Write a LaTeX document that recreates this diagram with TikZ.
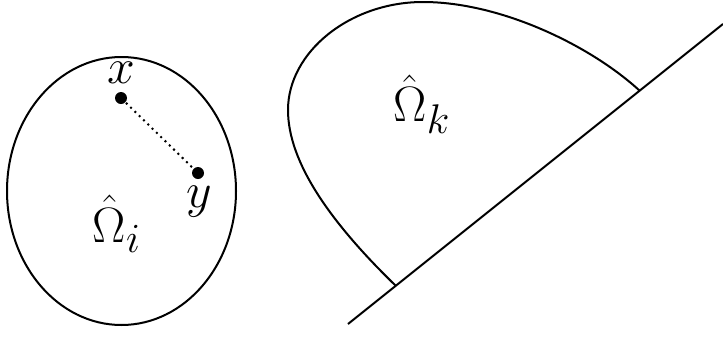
\documentclass[tikz,border=0pt]{standalone}
\usepackage{tikz}
\usetikzlibrary{positioning}
\usepackage{amsmath}
\usepackage{amssymb}
\begin{document}
\begin{tikzpicture}[
      x=0.5pt, y=-0.5pt,
      line width=1pt,
      dot/.style={circle, fill=black, inner sep=0pt, minimum size=6pt},
      lbl/.style={font=\Huge, inner sep=0pt}
    ]
    \useasboundingbox (0,0) rectangle (723,338);
    % left region
    \coordinate (ci) at (121.5,191);
    \draw (ci) ellipse [x radius=57.25pt, y radius=67pt];
    \node[dot] (px) at (121,98) {};
    \node[dot] (py) at (198,173) {};
    \draw[dotted] (px) -- (py);
    \node[lbl] (lx) at (121,73) {$x$};
    \node[lbl] (ly) at (199,202) {$y$};
    \node[lbl] (oi) at (117,224) {$\hat{\Omega}_i$};
    % right region
    \coordinate (la) at (348,324);
    \coordinate (lb) at (723,24);
    \coordinate (ja) at (396,286);
    \coordinate (jb) at (640,91);
    \draw (la) -- (lb);
    \draw (ja) .. controls (330,222) and (288,162) .. (288,110)
               .. controls (288,52) and (350,2) .. (423,2)
               .. controls (500,2) and (590,45) .. (jb);
    \node[lbl] (ok) at (422,104) {$\hat{\Omega}_k$};
  \end{tikzpicture}
\end{document}
